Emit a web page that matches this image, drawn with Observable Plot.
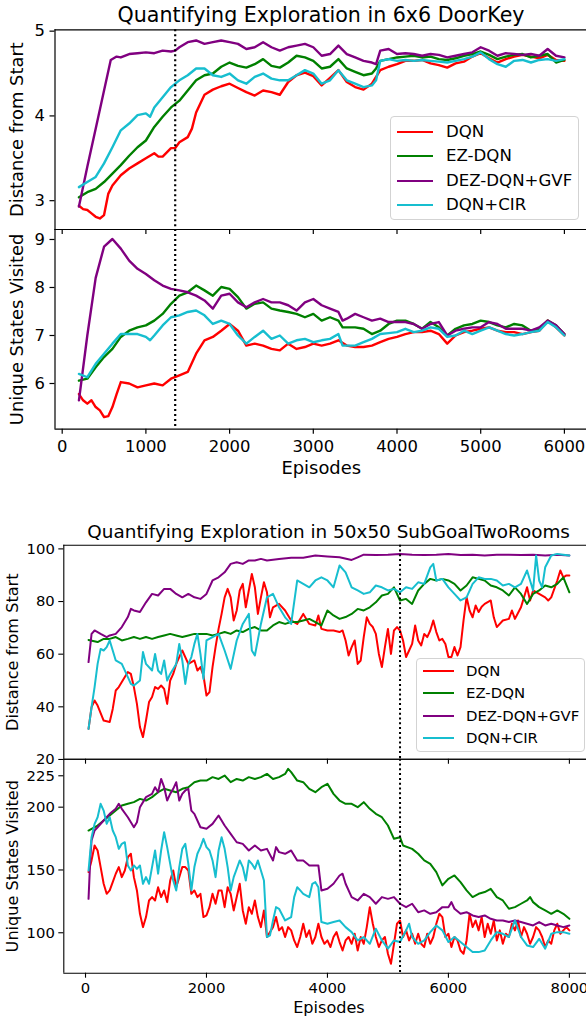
<!DOCTYPE html>
<html>
<head>
<meta charset="utf-8">
<script src="https://cdn.jsdelivr.net/npm/d3@7"></script>
<script src="https://cdn.jsdelivr.net/npm/@observablehq/plot@0.6"></script>
<style>
  html, body { margin: 0; padding: 0; background: white; overflow: hidden; }
  #root { position: relative; width: 586px; height: 1018px; overflow: hidden; font-family: "DejaVu Sans", sans-serif; }
  #root svg { position: absolute; left: 0; top: 0; }
  .legend { position: absolute; box-sizing: border-box; background: rgba(255,255,255,0.8); border: 1px solid #d3d3d3; border-radius: 4px; color: black; }
  .legend .row { position: absolute; left: 0; right: 0; white-space: nowrap; }
  .legend .handle { position: absolute; top: 0; }
  .legend .lab { position: absolute; transform: translateY(-50%); line-height: 1; }
</style>
</head>
<body>
<div id="root"></div>
<script>
// ---------------- data ----------------
const seriesNames = ["DQN", "EZ-DQN", "DEZ-DQN+GVF", "DQN+CIR"];
const seriesColors = ["#ff0000", "#008000", "#800080", "#17becf"];

// Figure 1: 6x6 DoorKey
const title1 = "Quantifying Exploration in 6x6 DoorKey";
const xTicks1 = [0, 1000, 2000, 3000, 4000, 5000, 6000];
const xDomain1 = [-86, 6264];
const distTicks1 = [3, 4, 5];
const distDomain1 = [2.66, 5.016];
const uniqTicks1 = [6, 7, 8, 9];
const uniqDomain1 = [5.048, 9.208];
const marker1 = 1350;

const dk_dist_DQN = [[200,2.94],[250,2.90],[300,2.89],[350,2.85],[400,2.81],[450,2.79],[500,2.83],[550,3.08],[600,3.18],[700,3.30],[800,3.38],[900,3.44],[1000,3.50],[1100,3.56],[1150,3.52],[1200,3.52],[1300,3.62],[1350,3.62],[1400,3.69],[1500,3.75],[1550,3.85],[1600,4.04],[1700,4.25],[1800,4.31],[1900,4.35],[2000,4.38],[2100,4.33],[2200,4.28],[2300,4.24],[2400,4.30],[2500,4.28],[2600,4.25],[2700,4.40],[2800,4.48],[2900,4.51],[3000,4.47],[3100,4.36],[3200,4.45],[3300,4.54],[3400,4.40],[3500,4.34],[3600,4.31],[3700,4.38],[3800,4.54],[3900,4.58],[4000,4.61],[4100,4.65],[4200,4.65],[4300,4.66],[4400,4.62],[4500,4.60],[4600,4.57],[4700,4.62],[4800,4.64],[4900,4.70],[5000,4.74],[5100,4.68],[5200,4.63],[5300,4.67],[5400,4.70],[5500,4.72],[5600,4.70],[5700,4.68],[5800,4.72],[5900,4.66],[6000,4.65]];
const dk_dist_EZ = [[200,3.04],[300,3.10],[400,3.14],[500,3.22],[600,3.32],[700,3.42],[800,3.53],[900,3.63],[1000,3.71],[1100,3.87],[1200,3.99],[1300,4.10],[1400,4.18],[1500,4.30],[1600,4.42],[1700,4.48],[1800,4.50],[1900,4.58],[2000,4.63],[2100,4.59],[2200,4.57],[2300,4.61],[2400,4.67],[2500,4.59],[2600,4.57],[2700,4.63],[2800,4.71],[2900,4.69],[3000,4.65],[3100,4.56],[3200,4.58],[3300,4.67],[3400,4.56],[3500,4.52],[3600,4.48],[3700,4.50],[3750,4.56],[3800,4.65],[3900,4.67],[4000,4.69],[4100,4.70],[4200,4.71],[4300,4.69],[4400,4.70],[4500,4.67],[4600,4.66],[4700,4.68],[4800,4.71],[4900,4.73],[5000,4.76],[5100,4.72],[5200,4.67],[5300,4.70],[5400,4.72],[5500,4.73],[5600,4.69],[5700,4.71],[5800,4.73],[5900,4.63],[6000,4.66]];
const dk_dist_DEZ = [[200,2.93],[300,3.40],[400,3.85],[500,4.30],[580,4.66],[650,4.70],[700,4.69],[800,4.73],[900,4.74],[1000,4.75],[1100,4.74],[1200,4.77],[1300,4.76],[1350,4.77],[1400,4.81],[1500,4.87],[1600,4.89],[1700,4.85],[1800,4.87],[1900,4.89],[2000,4.87],[2100,4.85],[2200,4.79],[2300,4.81],[2400,4.87],[2500,4.81],[2600,4.77],[2700,4.81],[2800,4.83],[2900,4.85],[3000,4.81],[3100,4.71],[3200,4.73],[3300,4.83],[3400,4.73],[3500,4.69],[3600,4.65],[3700,4.63],[3750,4.61],[3800,4.77],[3900,4.79],[4000,4.73],[4100,4.74],[4200,4.73],[4300,4.71],[4400,4.73],[4500,4.72],[4600,4.69],[4700,4.71],[4800,4.73],[4900,4.75],[5000,4.81],[5100,4.77],[5200,4.71],[5300,4.74],[5400,4.73],[5500,4.72],[5600,4.73],[5700,4.71],[5800,4.79],[5900,4.71],[6000,4.69]];
const dk_dist_CIR = [[200,3.16],[300,3.22],[400,3.28],[500,3.44],[600,3.63],[700,3.83],[800,3.91],[900,4.01],[1000,4.03],[1050,3.99],[1100,4.10],[1200,4.22],[1300,4.34],[1400,4.42],[1500,4.48],[1600,4.56],[1700,4.56],[1800,4.48],[1900,4.46],[2000,4.50],[2100,4.42],[2200,4.38],[2300,4.46],[2400,4.50],[2500,4.44],[2600,4.42],[2700,4.42],[2800,4.48],[2900,4.54],[3000,4.50],[3100,4.38],[3200,4.42],[3300,4.54],[3400,4.42],[3500,4.38],[3600,4.34],[3700,4.36],[3750,4.42],[3800,4.65],[3900,4.67],[4000,4.65],[4100,4.66],[4200,4.65],[4300,4.66],[4400,4.65],[4500,4.64],[4600,4.63],[4700,4.65],[4800,4.67],[4900,4.70],[5000,4.75],[5100,4.67],[5200,4.61],[5300,4.58],[5400,4.65],[5500,4.66],[5600,4.63],[5700,4.66],[5800,4.67],[5900,4.65],[6000,4.67]];

const dk_uniq_DQN = [[200,5.78],[250,5.65],[300,5.58],[350,5.65],[400,5.51],[450,5.44],[500,5.30],[550,5.32],[600,5.51],[650,5.78],[700,6.03],[800,6.00],[900,5.92],[1000,5.96],[1100,6.00],[1200,5.96],[1300,6.10],[1400,6.17],[1500,6.24],[1600,6.62],[1700,6.90],[1800,6.97],[1900,7.10],[2000,7.24],[2100,7.10],[2200,6.79],[2300,6.83],[2400,6.79],[2500,6.72],[2600,6.69],[2700,6.83],[2800,6.72],[2900,6.76],[3000,6.83],[3100,6.79],[3200,6.83],[3300,6.90],[3400,6.79],[3500,6.76],[3600,6.76],[3700,6.79],[3800,6.86],[3900,6.93],[4000,6.97],[4100,7.03],[4200,7.07],[4300,7.07],[4400,7.10],[4500,7.03],[4600,6.83],[4700,7.00],[4800,7.07],[4900,7.10],[5000,7.14],[5100,7.17],[5200,7.10],[5300,7.07],[5400,7.07],[5500,7.03],[5600,7.07],[5700,7.10],[5800,7.31],[5900,7.17],[6000,7.00]];
const dk_uniq_EZ = [[200,6.06],[300,6.10],[400,6.34],[500,6.55],[600,6.72],[700,6.97],[800,7.10],[900,7.17],[1000,7.21],[1100,7.31],[1200,7.45],[1300,7.66],[1400,7.83],[1500,7.90],[1600,8.04],[1700,7.94],[1800,7.83],[1900,8.01],[2000,7.97],[2100,7.80],[2200,7.56],[2300,7.66],[2400,7.69],[2500,7.56],[2600,7.52],[2700,7.49],[2800,7.45],[2900,7.38],[3000,7.45],[3100,7.31],[3200,7.38],[3300,7.31],[3350,7.17],[3500,7.17],[3600,7.14],[3700,7.03],[3800,7.10],[3900,7.24],[4000,7.31],[4100,7.31],[4200,7.24],[4300,7.14],[4400,7.28],[4500,7.17],[4600,7.00],[4700,7.14],[4800,7.21],[4900,7.24],[5000,7.31],[5100,7.28],[5200,7.21],[5300,7.17],[5400,7.24],[5500,7.21],[5600,7.10],[5700,7.14],[5800,7.31],[5900,7.21],[6000,7.03]];
const dk_uniq_DEZ = [[200,5.65],[300,7.00],[400,8.20],[500,8.85],[600,9.01],[700,8.81],[800,8.56],[900,8.39],[1000,8.28],[1100,8.15],[1200,8.04],[1300,7.97],[1400,7.94],[1500,7.90],[1600,7.83],[1700,7.73],[1800,7.56],[1900,7.83],[2000,7.87],[2100,7.69],[2200,7.59],[2300,7.69],[2400,7.76],[2500,7.69],[2600,7.69],[2700,7.63],[2800,7.52],[2900,7.69],[3000,7.76],[3100,7.63],[3200,7.56],[3300,7.49],[3350,7.31],[3400,7.35],[3500,7.45],[3600,7.38],[3700,7.31],[3800,7.35],[3900,7.28],[4000,7.28],[4100,7.28],[4200,7.24],[4300,7.14],[4400,7.24],[4500,7.28],[4600,7.00],[4700,7.10],[4800,7.14],[4900,7.17],[5000,7.17],[5100,7.28],[5200,7.24],[5300,7.14],[5400,7.14],[5500,7.14],[5600,7.10],[5700,7.17],[5800,7.31],[5900,7.21],[6000,7.03]];
const dk_uniq_CIR = [[200,6.20],[300,6.13],[400,6.41],[500,6.62],[600,6.83],[700,7.03],[800,7.03],[900,7.03],[1000,6.97],[1050,6.90],[1100,7.00],[1200,7.21],[1300,7.38],[1400,7.42],[1500,7.49],[1600,7.52],[1700,7.42],[1800,7.24],[1900,7.31],[2000,7.24],[2100,7.00],[2200,6.83],[2300,6.97],[2400,7.10],[2500,6.93],[2600,7.00],[2700,6.83],[2800,6.90],[2900,6.93],[3000,6.86],[3100,6.90],[3200,6.93],[3300,7.03],[3350,6.79],[3500,6.79],[3600,6.86],[3700,6.93],[3800,7.03],[3900,7.05],[4000,7.07],[4100,7.14],[4200,7.07],[4300,7.10],[4400,7.17],[4500,7.14],[4600,6.97],[4700,7.00],[4800,7.10],[4900,7.03],[5000,7.10],[5100,7.17],[5200,7.10],[5300,7.03],[5400,7.00],[5500,7.03],[5600,7.07],[5700,7.10],[5800,7.28],[5900,7.17],[6000,7.00]];

// Figure 2: 50x50 SubGoalTwoRooms
const title2 = "Quantifying Exploration in 50x50 SubGoalTwoRooms";
const xTicks2 = [0, 2000, 4000, 6000, 8000];
const xDomain2 = [-359, 8283];
const distTicks2 = [20, 40, 60, 80, 100];
const distDomain2 = [20.1, 101.4];
const uniqTicks2 = [100, 150, 200, 225];
const uniqDomain2 = [67.8, 238.2];
const marker2 = 5200;

const sg_dist_DQN = [[50,31.6],[100,39.9],[150,42.4],[200,40.5],[300,34.8],[400,34.2],[450,39.2],[500,46.2],[550,47.5],[600,49.4],[700,53.2],[750,52.5],[800,47.5],[850,41.1],[900,32.3],[950,28.5],[1000,34.8],[1050,41.8],[1100,43.7],[1150,47.5],[1200,46.8],[1250,48.1],[1300,46.8],[1350,41.1],[1400,50.0],[1450,52.5],[1500,56.3],[1550,58.9],[1600,61.4],[1700,56.3],[1800,57.6],[1850,53.8],[1900,55.1],[1950,51.9],[2000,44.3],[2050,45.6],[2100,55.1],[2150,62.7],[2200,69.6],[2250,75.3],[2300,81.6],[2350,84.8],[2400,81.6],[2450,72.8],[2500,76.6],[2550,84.2],[2600,86.7],[2650,77.8],[2700,84.2],[2750,90.5],[2800,85.4],[2850,75.3],[2900,81.6],[2950,87.3],[3000,83.5],[3050,74.0],[3100,77.8],[3200,79.1],[3300,76.6],[3400,72.8],[3500,71.5],[3600,75.3],[3700,71.5],[3800,70.9],[3850,74.7],[3900,69.6],[4000,69.0],[4100,69.0],[4200,68.4],[4250,69.0],[4300,65.2],[4350,59.5],[4400,62.7],[4450,65.2],[4500,56.3],[4550,57.6],[4600,66.5],[4650,74.0],[4700,71.5],[4750,70.3],[4800,67.7],[4850,60.1],[4900,55.1],[4950,62.7],[5000,69.6],[5050,60.1],[5100,69.0],[5150,70.3],[5200,69.0],[5250,65.2],[5300,58.9],[5350,61.4],[5400,63.9],[5450,70.9],[5500,65.2],[5550,63.3],[5600,67.7],[5650,66.5],[5700,69.0],[5750,72.8],[5800,68.4],[5850,65.2],[5900,65.8],[5950,63.9],[6000,58.9],[6050,58.9],[6100,62.7],[6150,59.5],[6200,62.7],[6250,72.8],[6300,81.6],[6350,76.6],[6400,74.0],[6450,78.5],[6500,76.0],[6550,78.0],[6600,79.1],[6700,80.4],[6750,74.0],[6800,70.3],[6900,72.8],[7000,73.4],[7050,76.6],[7100,73.4],[7200,77.8],[7300,85.4],[7350,80.4],[7400,84.2],[7500,82.9],[7600,81.6],[7650,80.4],[7700,81.6],[7800,88.0],[7850,91.8],[7900,89.2],[7950,89.9],[8000,89.9]];
const sg_dist_EZ = [[50,65.4],[200,64.6],[300,65.8],[400,65.8],[500,66.5],[600,65.2],[700,65.8],[800,66.5],[900,65.8],[1000,66.5],[1100,65.8],[1200,66.5],[1300,67.1],[1400,67.7],[1500,67.1],[1600,66.5],[1700,67.1],[1800,67.7],[1900,67.7],[2000,67.7],[2100,67.1],[2200,67.7],[2300,68.4],[2400,67.7],[2500,69.0],[2600,68.4],[2700,69.6],[2800,70.3],[2900,69.0],[3000,69.0],[3100,70.9],[3200,72.2],[3300,71.5],[3400,72.2],[3500,72.2],[3600,72.8],[3700,73.4],[3800,72.2],[3900,70.9],[4000,76.6],[4100,74.7],[4200,73.4],[4300,74.1],[4400,75.3],[4500,77.2],[4600,76.6],[4700,77.8],[4800,79.7],[4900,82.3],[5000,82.9],[5100,85.4],[5200,80.4],[5300,81.0],[5400,79.1],[5500,84.2],[5600,86.7],[5700,88.6],[5800,88.0],[5900,88.6],[6000,88.0],[6100,86.7],[6200,84.2],[6300,86.1],[6400,89.2],[6500,88.6],[6600,88.0],[6700,86.1],[6800,85.4],[6900,84.2],[7000,82.3],[7100,85.4],[7200,82.9],[7300,79.1],[7400,82.9],[7500,84.2],[7600,86.1],[7700,85.4],[7800,86.7],[7900,89.2],[8000,83.5]];
const sg_dist_DEZ = [[50,57.0],[100,67.7],[150,69.0],[250,67.7],[350,66.5],[400,67.1],[500,67.7],[600,70.3],[700,74.1],[750,77.2],[800,76.6],[900,76.0],[1000,79.7],[1100,82.9],[1200,82.3],[1300,84.8],[1400,84.8],[1500,82.9],[1600,81.6],[1700,82.9],[1800,81.6],[1900,81.0],[2000,82.9],[2100,88.0],[2200,89.2],[2300,91.1],[2400,94.3],[2500,94.9],[2600,94.3],[2700,95.6],[2800,95.6],[2900,96.2],[3000,95.6],[3200,96.2],[3400,96.6],[3600,96.6],[3800,97.5],[4000,97.1],[4200,96.8],[4400,95.8],[4500,96.8],[4600,97.8],[4800,97.7],[5000,97.8],[5200,98.1],[5400,97.8],[5600,97.7],[5800,97.8],[6000,98.1],[6200,97.7],[6400,97.8],[6600,97.5],[6800,97.8],[7000,97.8],[7200,97.7],[7400,97.8],[7600,97.5],[7800,97.8],[8000,97.5]];
const sg_dist_CIR = [[50,31.6],[100,39.9],[150,47.5],[200,56.3],[250,62.0],[300,61.4],[350,62.7],[400,65.2],[450,61.4],[500,57.6],[600,56.3],[700,51.3],[750,48.7],[800,48.1],[900,50.0],[950,60.8],[1000,56.3],[1100,53.8],[1150,60.1],[1200,53.8],[1250,52.5],[1300,57.6],[1350,50.0],[1400,52.5],[1500,56.3],[1550,63.9],[1600,57.6],[1650,48.7],[1700,56.3],[1750,58.9],[1800,63.9],[1850,67.7],[1900,60.1],[1950,50.6],[2000,65.2],[2100,66.5],[2200,67.7],[2300,61.4],[2400,54.4],[2500,65.2],[2600,71.5],[2700,75.3],[2750,61.4],[2800,59.5],[2900,71.5],[3000,81.6],[3100,82.9],[3200,77.8],[3300,74.0],[3400,71.5],[3500,88.0],[3600,86.7],[3700,85.4],[3800,88.0],[3900,89.2],[4000,88.0],[4100,85.4],[4200,93.7],[4300,91.1],[4400,85.4],[4500,84.2],[4600,82.9],[4700,83.5],[4800,86.1],[4900,85.4],[5000,84.2],[5100,84.8],[5200,83.5],[5300,85.4],[5400,84.8],[5500,87.3],[5600,86.7],[5700,93.0],[5750,94.3],[5800,88.0],[5900,88.6],[6000,85.4],[6100,82.9],[6200,80.4],[6300,81.6],[6400,86.7],[6500,89.2],[6600,88.6],[6700,88.6],[6800,88.0],[6900,86.1],[7000,86.7],[7100,85.4],[7200,86.7],[7300,91.8],[7400,84.2],[7450,97.5],[7500,88.0],[7550,85.4],[7600,93.0],[7700,97.5],[7800,98.1],[8000,97.5]];

const sg_uniq_DQN = [[50,148.3],[100,157.6],[150,169.5],[200,165.5],[250,152.3],[300,139.0],[350,131.0],[400,133.7],[450,140.3],[500,147.0],[550,152.3],[600,144.3],[650,149.6],[700,160.2],[750,162.9],[800,144.3],[850,133.7],[900,115.1],[950,104.5],[1000,112.5],[1050,125.7],[1100,128.4],[1150,125.7],[1200,136.3],[1250,128.4],[1300,133.7],[1350,124.4],[1400,141.6],[1450,149.6],[1500,136.3],[1550,144.3],[1600,152.3],[1650,152.3],[1700,149.6],[1750,131.0],[1800,133.7],[1850,128.4],[1900,131.0],[1950,112.5],[2000,113.8],[2050,120.4],[2100,131.0],[2150,123.1],[2200,133.7],[2250,133.7],[2300,120.4],[2350,136.3],[2400,131.0],[2450,117.8],[2500,128.4],[2550,139.0],[2600,117.8],[2650,107.2],[2700,120.4],[2750,115.1],[2800,125.7],[2850,112.5],[2900,104.5],[2950,117.8],[3000,96.6],[3100,104.5],[3150,112.5],[3200,101.9],[3250,104.5],[3300,96.6],[3350,104.5],[3400,101.9],[3450,93.9],[3500,88.6],[3550,96.6],[3600,107.2],[3650,96.6],[3700,101.9],[3750,91.2],[3800,96.6],[3850,107.2],[3900,96.6],[3950,91.2],[4000,93.9],[4050,88.6],[4100,96.6],[4150,100.5],[4200,92.6],[4250,85.9],[4300,93.9],[4350,96.6],[4400,91.2],[4450,99.2],[4500,85.9],[4550,96.6],[4600,91.2],[4650,104.5],[4700,120.4],[4750,107.2],[4800,96.6],[4850,88.6],[4900,93.9],[4950,96.6],[5000,83.3],[5050,75.3],[5100,91.2],[5150,107.2],[5200,109.8],[5250,96.6],[5300,101.9],[5350,93.9],[5400,99.2],[5450,91.2],[5500,99.2],[5550,91.2],[5600,88.6],[5650,99.2],[5700,91.2],[5750,96.6],[5800,107.2],[5850,115.1],[5900,112.5],[5950,96.6],[6000,99.2],[6050,88.6],[6100,96.6],[6150,93.9],[6200,85.9],[6250,83.3],[6300,93.9],[6350,115.1],[6400,104.5],[6450,109.8],[6500,101.9],[6550,112.5],[6600,96.6],[6650,107.2],[6700,99.2],[6750,109.8],[6800,93.9],[6850,101.9],[6900,91.2],[6950,99.2],[7000,96.6],[7050,107.2],[7100,101.9],[7150,109.8],[7200,96.6],[7250,104.5],[7300,99.2],[7350,91.2],[7400,96.6],[7450,104.5],[7500,101.9],[7550,96.6],[7600,88.6],[7650,93.9],[7700,91.2],[7750,101.9],[7800,107.2],[7850,99.2],[7900,101.9],[7950,104.5],[8000,101.9]];
const sg_uniq_EZ = [[50,181.4],[100,182.8],[200,185.4],[300,189.4],[400,193.4],[500,197.3],[600,201.3],[700,202.7],[800,204.0],[900,206.6],[1000,205.3],[1100,208.0],[1200,211.9],[1300,214.6],[1400,213.3],[1500,211.9],[1600,214.6],[1700,215.9],[1800,219.9],[1900,221.2],[2000,221.2],[2100,223.9],[2200,222.5],[2300,225.2],[2400,219.9],[2500,222.5],[2600,221.2],[2700,223.9],[2800,222.5],[2900,223.9],[3000,226.5],[3100,222.5],[3200,223.9],[3300,226.5],[3350,230.5],[3400,227.9],[3500,221.2],[3600,219.9],[3700,214.6],[3800,211.9],[3900,215.9],[4000,218.6],[4100,210.6],[4200,205.3],[4300,202.7],[4400,202.7],[4500,200.0],[4600,204.0],[4700,198.7],[4800,194.7],[4900,192.0],[5000,185.4],[5100,174.8],[5200,176.1],[5250,169.5],[5400,166.8],[5500,162.9],[5600,157.6],[5700,154.9],[5800,148.3],[5900,137.7],[6000,143.0],[6100,145.6],[6200,140.3],[6300,133.7],[6400,128.4],[6500,131.0],[6600,132.4],[6700,135.0],[6800,128.4],[6900,125.7],[7000,119.1],[7100,120.4],[7200,123.1],[7300,125.7],[7350,128.4],[7400,124.4],[7500,120.4],[7600,117.8],[7700,115.1],[7800,117.8],[7900,115.1],[8000,111.1]];
const sg_uniq_DEZ = [[50,127.0],[80,160.0],[100,173.5],[150,181.4],[200,184.0],[300,189.4],[400,194.7],[500,198.7],[550,202.7],[600,198.7],[700,192.0],[800,184.0],[850,188.0],[900,200.0],[1000,208.0],[1100,210.6],[1150,215.9],[1200,211.9],[1250,222.5],[1300,215.9],[1350,205.3],[1400,210.6],[1450,214.6],[1500,219.9],[1550,205.3],[1600,210.6],[1650,213.3],[1700,214.6],[1750,197.3],[1800,194.7],[1900,184.0],[2000,182.8],[2100,186.7],[2200,193.4],[2300,185.4],[2400,178.8],[2500,172.1],[2600,170.8],[2700,165.5],[2800,169.5],[2900,165.5],[3000,166.8],[3100,157.6],[3150,168.2],[3200,164.2],[3300,162.9],[3400,165.5],[3500,157.6],[3600,157.6],[3700,153.6],[3800,153.6],[3850,153.6],[3900,133.7],[4000,135.0],[4100,139.0],[4200,145.6],[4250,147.0],[4300,139.0],[4400,128.4],[4500,125.7],[4600,131.0],[4700,128.4],[4800,123.1],[4900,128.4],[5000,127.0],[5100,128.4],[5200,123.1],[5300,120.4],[5400,123.1],[5500,116.4],[5600,117.8],[5700,115.1],[5800,116.4],[5900,120.4],[6000,120.4],[6050,124.4],[6100,119.1],[6200,115.1],[6300,116.4],[6400,113.8],[6500,112.5],[6600,113.8],[6700,111.1],[6800,109.8],[6900,109.8],[7000,108.5],[7100,109.8],[7200,108.5],[7300,107.2],[7400,105.8],[7500,108.5],[7600,105.8],[7700,107.2],[7800,105.8],[7900,104.5],[8000,105.8]];
const sg_uniq_CIR = [[50,149.6],[80,165.5],[100,176.1],[150,186.7],[200,192.0],[250,202.7],[300,197.3],[350,186.7],[400,192.0],[450,181.4],[500,176.1],[550,166.8],[600,170.8],[650,172.1],[700,153.6],[750,149.6],[800,153.6],[850,150.9],[900,153.6],[950,139.0],[1000,144.3],[1050,139.0],[1100,152.3],[1150,165.5],[1200,147.0],[1250,165.5],[1300,180.1],[1350,168.2],[1400,154.9],[1450,141.6],[1500,133.7],[1550,152.3],[1600,166.8],[1650,170.8],[1700,154.9],[1750,133.7],[1800,152.3],[1850,162.9],[1900,168.2],[1950,174.8],[2000,168.2],[2050,165.5],[2100,157.6],[2150,144.3],[2200,165.5],[2250,176.1],[2300,166.8],[2350,152.3],[2400,133.7],[2450,144.3],[2500,150.9],[2550,157.6],[2600,152.3],[2650,141.6],[2700,157.6],[2750,154.9],[2800,150.9],[2850,157.6],[2900,149.6],[2950,141.6],[3000,96.6],[3050,97.9],[3100,109.8],[3150,120.4],[3200,119.1],[3300,109.8],[3400,112.5],[3450,128.4],[3500,136.3],[3550,133.7],[3600,131.0],[3700,128.4],[3750,139.0],[3800,140.3],[3850,136.3],[3900,108.5],[4000,107.2],[4100,108.5],[4200,109.8],[4300,104.5],[4400,100.5],[4500,93.9],[4600,96.6],[4700,91.2],[4800,103.2],[4900,93.9],[5000,87.3],[5100,93.9],[5200,92.6],[5300,101.9],[5350,107.2],[5400,96.6],[5500,91.2],[5600,93.9],[5700,100.5],[5800,105.8],[5900,101.9],[6000,92.6],[6100,96.6],[6200,92.6],[6300,88.6],[6400,84.6],[6500,84.6],[6600,85.9],[6700,93.9],[6800,100.5],[6900,99.2],[7000,96.6],[7100,109.8],[7200,96.6],[7300,89.9],[7400,88.6],[7500,95.2],[7600,87.3],[7700,99.2],[7800,100.5],[7900,100.5],[8000,99.2]];

// ---------------- drawing ----------------
const W = 586, H = 1018;
const root = document.getElementById("root");

function toRows(seriesList) {
  const rows = [];
  seriesList.forEach((s, i) => s.forEach(([ep, v]) => rows.push({ep, v, s: seriesNames[i]})));
  return rows;
}

function panel(o) {
  const rows = toRows(o.series);
  const marks = [];
  // spines (left, top, bottom)
  marks.push(Plot.ruleY(o.yDomain, {stroke: "black", strokeWidth: o.spine}));
  marks.push(Plot.ruleX([o.xDomain[0]], {stroke: "black", strokeWidth: o.spine}));
  // lines, drawn in series order
  seriesNames.forEach((name, i) => {
    marks.push(Plot.line(rows.filter(r => r.s === name), {x: "ep", y: "v", stroke: seriesColors[i], strokeWidth: o.lw, strokeLinejoin: "round"}));
  });
  // dotted marker
  marks.push(Plot.ruleX([o.marker], {stroke: "black", strokeWidth: o.dotW, strokeDasharray: o.dash}));
  // axes
  marks.push(Plot.axisY({ticks: o.yTicks, tickSize: 5, tickPadding: o.yPad, fontSize: o.tick, label: null, tickFormat: d => String(d), stroke: "black", strokeWidth: o.spine}));
  if (o.xLabels) {
    marks.push(Plot.axisX({ticks: o.xTicks, tickSize: 5, tickPadding: o.xPad, fontSize: o.tick, label: null, tickFormat: d => String(d), stroke: "black", strokeWidth: o.spine}));
    marks.push(Plot.text(["Episodes"], {text: d => d, frameAnchor: "bottom", textAnchor: "middle", lineAnchor: "bottom", dy: o.epDy, dx: o.epDx, fontSize: o.lab, fill: "black"}));
  } else {
    marks.push(Plot.axisX({ticks: o.xTicks, tickSize: 5, tickFormat: () => "", label: null, stroke: "black", strokeWidth: o.spine}));
  }
  if (o.title) {
    marks.push(Plot.text([o.title], {text: d => d, frameAnchor: "top", textAnchor: "middle", lineAnchor: "bottom", dy: o.titleDy, dx: o.titleDx, fontSize: o.titleSize, fill: "black"}));
  }
  marks.push(Plot.text([o.ylabel], {text: d => d, frameAnchor: "left", textAnchor: "middle", rotate: -90, lineAnchor: "middle", dx: o.ylabDx, fontSize: o.lab, fill: "black"}));

  const svg = Plot.plot({
    width: W, height: H,
    marginTop: o.top, marginBottom: H - o.bottom, marginLeft: o.left, marginRight: 0,
    x: {domain: o.xDomain, label: null},
    y: {domain: o.yDomain, label: null},
    style: {background: "transparent", overflow: "visible", fontFamily: "'DejaVu Sans', sans-serif", color: "black"},
    marks
  });
  root.appendChild(svg);
}

function legend(o) {
  const box = document.createElement("div");
  box.className = "legend";
  Object.assign(box.style, {left: o.x + "px", top: o.y + "px", width: o.w + "px", height: o.h + "px", fontSize: o.font + "px"});
  seriesNames.forEach((name, i) => {
    const row = document.createElement("div");
    row.className = "row";
    row.style.top = (o.first + i * o.step) + "px";
    const h = document.createElement("div");
    h.className = "handle";
    Object.assign(h.style, {left: o.h0 + "px", width: (o.h1 - o.h0) + "px", height: o.lw + "px", marginTop: (-o.lw / 2) + "px", background: seriesColors[i]});
    const t = document.createElement("div");
    t.className = "lab";
    t.style.left = o.tx + "px";
    t.textContent = name;
    row.appendChild(h); row.appendChild(t);
    box.appendChild(row);
  });
  root.appendChild(box);
}

const f1 = {xDomain: xDomain1, xTicks: xTicks1, left: 54.5, marker: marker1, lw: 2.4, spine: 1.2, dotW: 2.2, dash: "2,3", tick: 16.4, lab: 17.9, titleSize: 20.6, yPad: 5, xPad: 6.3};
panel({...f1, series: [dk_dist_DQN, dk_dist_EZ, dk_dist_DEZ, dk_dist_CIR], yDomain: distDomain1, yTicks: distTicks1,
  top: 29.3, bottom: 229, xLabels: false, title: title1, titleDy: -7.8, titleDx: 0.3, ylabel: "Distance from Start", ylabDx: -37.5});
panel({...f1, series: [dk_uniq_DQN, dk_uniq_EZ, dk_uniq_DEZ, dk_uniq_CIR], yDomain: uniqDomain1, yTicks: uniqTicks1,
  top: 229, bottom: 428.7, xLabels: true, epDy: 45, epDx: 0.5, ylabel: "Unique States Visited", ylabDx: -37.5});

const f2 = {xDomain: xDomain2, xTicks: xTicks2, left: 63.3, marker: marker2, lw: 2.0, spine: 1.1, dotW: 2.0, dash: "2,2.8", tick: 14.8, lab: 16.1, titleSize: 18.4, yPad: 4, xPad: 4.1};
panel({...f2, series: [sg_dist_DQN, sg_dist_EZ, sg_dist_DEZ, sg_dist_CIR], yDomain: distDomain2, yTicks: distTicks2,
  top: 544.7, bottom: 758.7, xLabels: false, title: title2, titleDy: -7.7, titleDx: 3.5, ylabel: "Distance from Start", ylabDx: -51.3});
panel({...f2, series: [sg_uniq_DQN, sg_uniq_EZ, sg_uniq_DEZ, sg_uniq_CIR], yDomain: uniqDomain2, yTicks: uniqTicks2,
  top: 758.7, bottom: 972.7, xLabels: true, epDy: 39.8, epDx: 3.8, ylabel: "Unique States Visited", ylabDx: -51.3});

legend({x: 390, y: 116, w: 189.3, h: 104, font: 16.6, first: 14.7, step: 24.5, h0: 6, h1: 41.7, tx: 55, lw: 2.4});
legend({x: 416, y: 658.3, w: 169, h: 93.4, font: 14.9, first: 11.7, step: 22.3, h0: 5.7, h1: 36.7, tx: 49, lw: 2.1});
</script>
</body>
</html>
